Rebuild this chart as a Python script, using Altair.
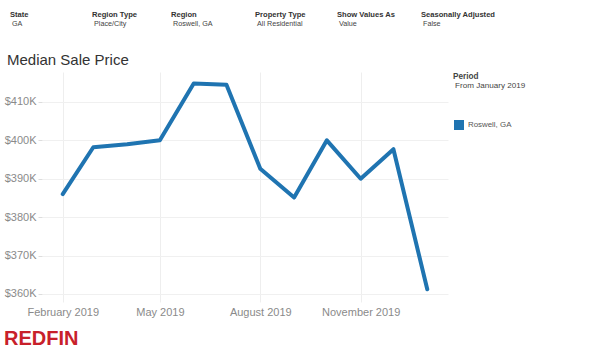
import altair as alt
import pandas as pd

# ---- data ----
months = ["2019-02-01", "2019-03-01", "2019-04-01", "2019-05-01", "2019-06-01",
          "2019-07-01", "2019-08-01", "2019-09-01", "2019-10-01", "2019-11-01",
          "2019-12-01", "2020-01-01"]
prices = [386000, 398200, 399000, 400000, 414800, 414500,
          392600, 385100, 400000, 390000, 397700, 361200]
series_name = "Roswell, GA"

filter_labels = ["State", "Region Type", "Region", "Property Type",
                 "Show Values As", "Seasonally Adjusted"]
filter_values = ["GA", "Place/City", "Roswell, GA", "All Residential",
                 "Value", "False"]
y_ticks = [360000, 370000, 380000, 390000, 400000, 410000]

df = pd.DataFrame({"date": months, "price": prices, "series": series_name})

# ---- layout ----
PL, PT, W, H = 42, 72, 406, 230
BLUE = "#1f74b1"
FONT = "Liberation Sans"

def layout_text(text, x, y, size, color, weight="normal", font=FONT, align="left"):
    return alt.Chart(pd.DataFrame({"t": [text]})).mark_text(
        align=align, baseline="middle", fontSize=size, font=font,
        fontWeight=weight, color=color
    ).encode(text="t:N", x=alt.value(x - PL), y=alt.value(y - PT))

header_x = [10, 92, 171, 255, 337, 421]
layers = []
for lab, val, hx in zip(filter_labels, filter_values, header_x):
    layers.append(layout_text(lab, hx, 15, 7.6, "#333333", weight="bold"))
    layers.append(layout_text(val, hx + 2, 24, 7.2, "#444444"))

layers.append(layout_text("Median Sale Price", 7, 60, 15, "#333333"))
layers.append(layout_text("Period", 453, 77, 8.2, "#444444", weight="bold"))
layers.append(layout_text("From January 2019", 455, 86, 8.1, "#444444"))
layers.append(layout_text(series_name, 468, 125, 7.9, "#555555"))
layers.append(layout_text("REDFIN", 4, 339, 20, "#c8202a", weight="bold"))

legend_sq = alt.Chart(pd.DataFrame({"s": [series_name]})).mark_square(
    size=100, color=BLUE, opacity=1
).encode(x=alt.value(459 - PL), y=alt.value(125 - PT))

line = alt.Chart(df).mark_line(
    color=BLUE, strokeWidth=4, strokeJoin="round", strokeCap="round"
).encode(
    x=alt.X("date:T",
            scale=alt.Scale(type="utc",
                            domain=[alt.DateTime(year=2019, month=1, date=13, utc=True),
                                    alt.DateTime(year=2020, month=1, date=20, utc=True)]),
            axis=alt.Axis(title=None,
                          labelExpr="utcFormat(datum.value, '%B %Y')",
                          values=[alt.DateTime(year=2019, month=m, date=1, utc=True)
                                  for m in (2, 5, 8, 11)],
                          labelFontSize=11, labelColor="#8a8a8a", labelFont=FONT,
                          domain=False, ticks=False, labelPadding=4,
                          grid=True, gridColor="#eeeeee", labelFlush=False,
                          labelOverlap=False)),
    y=alt.Y("price:Q",
            scale=alt.Scale(domain=[357900, 417800], nice=False, zero=False),
            axis=alt.Axis(title=None, values=y_ticks,
                          labelExpr="'$' + format(datum.value/1000, 'd') + 'K'",
                          labelFontSize=11, labelColor="#8a8a8a", labelFont=FONT,
                          domain=False, ticks=True, tickSize=4, tickColor="#dddddd",
                          labelPadding=2, grid=True, gridColor="#f0f0f0")),
)

chart = alt.layer(line, legend_sq, *layers).properties(
    width=W, height=H,
    padding={"left": PL, "top": PT, "right": 600 - PL - W, "bottom": 353 - PT - H},
    autosize=alt.AutoSizeParams(type="none"),
    background="white",
).configure_view(stroke=None)

chart.save("out.html", embed_options={"renderer": "svg", "actions": False})
